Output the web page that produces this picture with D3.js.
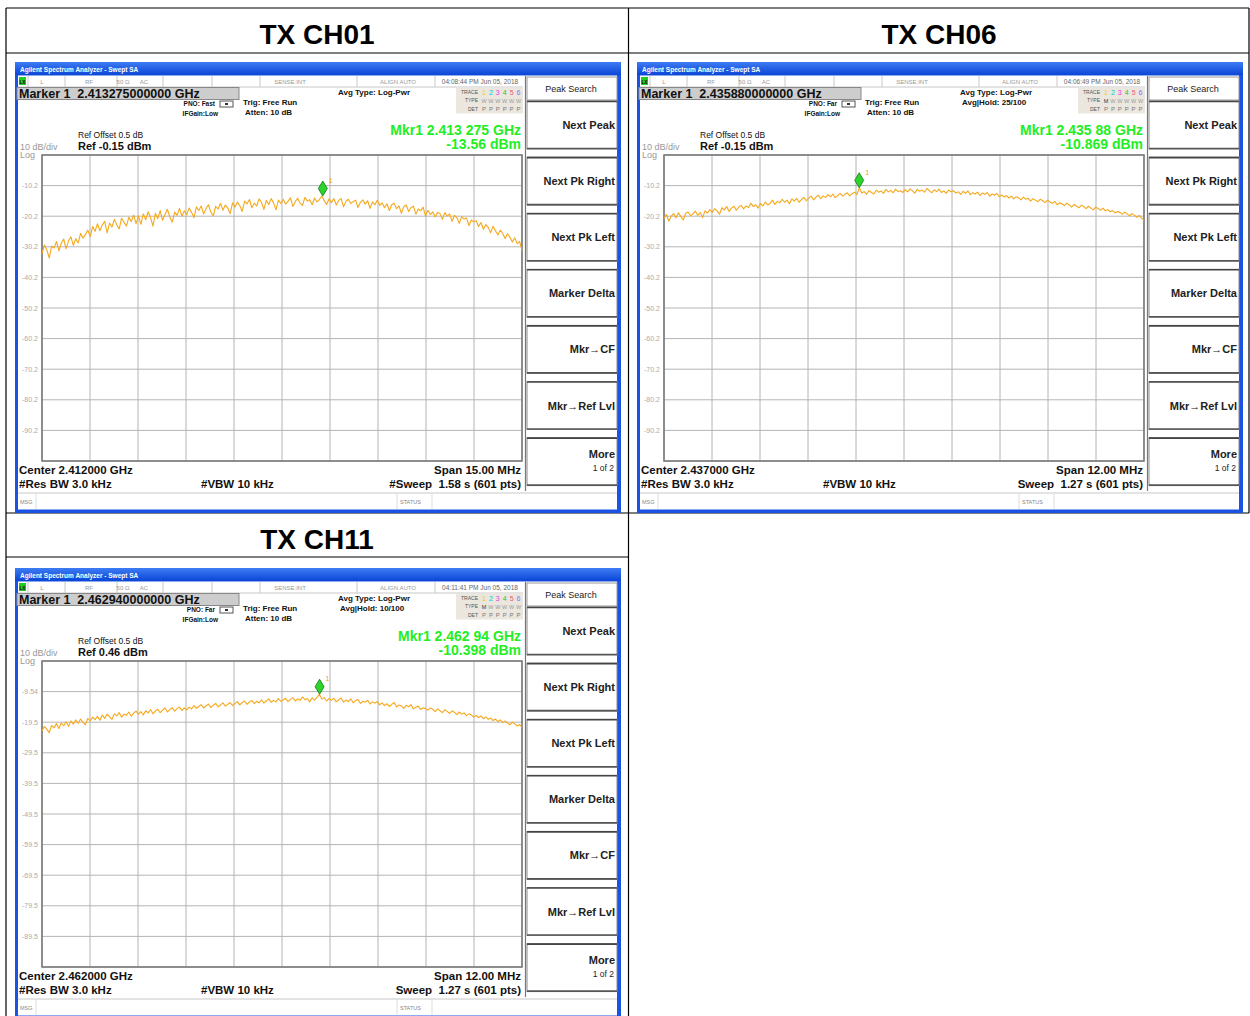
<!DOCTYPE html>
<html>
<head>
<meta charset="utf-8">
<script src="https://cdn.jsdelivr.net/npm/d3@7"></script>
<style>
  body { margin: 0; background: #fff; }
  svg { display: block; }
  text { font-family: "Liberation Sans", Arial, sans-serif; white-space: pre; }
</style>
</head>
<body>
<svg id="chart" width="1250" height="1016"></svg>
<script>
// ---- data -------------------------------------------------------------
const panelTitles   = ["TX CH01", "TX CH06", "TX CH11"];
const centerGHz     = [2.412, 2.437, 2.462];
const spanMHz       = [15, 12, 12];
const refLevelDbm   = [-0.15, -0.15, 0.46];
const markerGHz     = [2.413275, 2.43588, 2.46294];
const markerDbm     = [-13.56, -10.869, -10.398];
const markerFreqTxt = ["2.413275000000 GHz", "2.435880000000 GHz", "2.462940000000 GHz"];
const mkrReadoutTxt = ["2.413 275 GHz", "2.435 88 GHz", "2.462 94 GHz"];
const centerTxt     = ["Center 2.412000 GHz", "Center 2.437000 GHz", "Center 2.462000 GHz"];
const spanTxt       = ["Span 15.00 MHz", "Span 12.00 MHz", "Span 12.00 MHz"];
const sweepTxt      = ["#Sweep  1.58 s (601 pts)", "Sweep  1.27 s (601 pts)", "Sweep  1.27 s (601 pts)"];
const pnoTxt        = ["PNO: Fast", "PNO: Far", "PNO: Far"];
const avgHoldTxt    = ["", "Avg|Hold: 25/100", "Avg|Hold: 10/100"];
const timestampTxt  = ["04:08:44 PM Jun 05, 2018", "04:06:49 PM Jun 05, 2018", "04:11:41 PM Jun 05, 2018"];
const traceTypeTxt  = ["WWWWWW", "MWWWWW", "MWWWWW"];
const yTickLabels = [
  ["-10.2", "-20.2", "-30.2", "-40.2", "-50.2", "-60.2", "-70.2", "-80.2", "-90.2"],
  ["-10.2", "-20.2", "-30.2", "-40.2", "-50.2", "-60.2", "-70.2", "-80.2", "-90.2"],
  ["-9.54", "-19.5", "-29.5", "-39.5", "-49.5", "-59.5", "-69.5", "-79.5", "-89.5"]
];
const softkeyLabels = ["Next Peak", "Next Pk Right", "Next Pk Left", "Marker Delta", "Mkr\u2192CF", "Mkr\u2192Ref Lvl", "More"];

// swept trace levels (dBm), evenly spaced across the span
const traceCh01 = [
  -32.4, -29.6, -31.2, -33.8, -29.9, -30.6, -28.4, -31.5, -29.0, -27.6, -30.8, -28.2, -26.9, -29.7, -27.5, -28.9, -25.8, -27.3, -26.1, -24.7,
  -26.8, -23.5, -25.1, -22.6, -24.9, -23.0, -21.8, -25.6, -22.4, -23.7, -21.2, -22.9, -24.3, -20.8, -22.1, -23.4, -20.5, -21.9, -19.8, -22.6,
  -20.1, -22.8, -19.4, -21.3, -18.7, -20.6, -23.4, -19.2, -20.9, -18.3, -21.5, -19.6, -17.9, -20.4, -22.1, -18.8, -19.9, -17.6, -20.2, -18.4,
  -19.7, -17.5, -18.9, -20.6, -17.1, -18.3, -16.8, -19.4, -17.7, -16.4, -18.8, -20.1, -16.9, -17.8, -15.9, -18.2, -16.5, -17.4, -19.3, -15.8,
  -17.2, -15.5, -16.7, -18.6, -15.2, -16.1, -14.7, -17.4, -15.9, -16.8, -14.5, -15.6, -17.9, -15.0, -16.3, -14.4, -15.8, -18.1, -14.9, -16.0,
  -14.6, -16.2, -15.3, -14.1, -17.0, -15.4, -14.3, -15.9, -16.6, -14.0, -15.2, -14.8, -16.4, -14.2, -15.5, -14.7, -13.56, -15.1, -16.3, -14.5,
  -15.7, -14.4, -16.5, -15.0, -14.3, -17.1, -15.3, -14.6, -16.0, -15.4, -14.9, -17.3, -15.6, -14.8, -16.2, -15.1, -17.6, -15.5, -16.4, -14.9,
  -16.6, -15.8, -17.4, -16.1, -18.3, -16.4, -15.9, -17.7, -16.8, -19.2, -17.0, -16.5, -18.6, -17.3, -16.9, -19.5, -17.8, -18.4, -17.2, -20.1,
  -18.2, -19.6, -18.7, -20.4, -18.9, -19.3, -21.2, -19.0, -20.1, -19.4, -21.8, -19.9, -20.6, -22.5, -20.3, -21.1, -20.7, -23.2, -21.4, -22.0,
  -21.6, -23.5, -22.2, -24.4, -22.9, -23.8, -25.6, -23.4, -24.9, -26.3, -24.7, -25.8, -27.4, -25.9, -27.0, -28.6, -27.2, -29.1, -28.4, -31.3
];
const traceCh06 = [
  -20.9, -19.6, -21.8, -20.1, -19.3, -20.7, -19.0, -20.3, -21.4, -19.2, -18.8, -20.0, -19.4, -18.5, -19.9, -18.9, -20.6, -18.4, -19.1, -18.0,
  -18.9, -17.7, -18.4, -19.5, -17.4, -18.1, -17.0, -18.6, -17.5, -16.9, -18.2, -17.2, -16.6, -17.8, -16.8, -17.3, -15.9, -17.0, -16.4, -17.5,
  -16.0, -16.8, -15.5, -16.5, -15.9, -14.9, -16.3, -15.3, -15.8, -14.6, -15.6, -14.9, -16.1, -14.5, -15.2, -14.3, -15.6, -14.7, -14.0, -15.1,
  -14.2, -13.6, -14.8, -13.9, -13.3, -14.4, -13.5, -14.0, -13.1, -13.8, -12.9, -14.1, -13.4, -12.7, -13.6, -13.0, -12.5, -13.5, -12.8, -12.3,
  -13.1, -10.869, -12.6, -12.1, -13.0, -11.8, -12.4, -12.9, -11.6, -12.3, -11.9, -12.7, -11.4, -12.2, -11.7, -12.5, -11.3, -12.1, -11.8, -12.4,
  -11.5, -12.2, -11.2, -11.9, -12.6, -11.4, -12.0, -11.6, -12.3, -11.1, -11.8, -12.5, -11.5, -12.1, -11.3, -12.4, -11.9, -12.7, -11.6, -12.2,
  -11.8, -12.6, -12.2, -13.0, -12.0, -12.7, -11.9, -13.1, -12.5, -12.9, -12.3, -13.4, -12.6, -13.0, -12.4, -13.6, -12.9, -13.3, -12.7, -13.8,
  -13.2, -13.9, -13.4, -14.2, -13.6, -14.5, -13.8, -14.1, -14.8, -13.9, -14.6, -14.3, -15.2, -14.4, -14.9, -15.4, -14.6, -15.1, -15.7, -14.9,
  -15.5, -15.9, -15.3, -16.4, -15.8, -16.1, -16.7, -15.9, -16.5, -17.2, -16.3, -16.8, -17.4, -16.6, -17.0, -17.7, -16.9, -17.5, -18.1, -17.2,
  -17.6, -18.2, -17.5, -18.4, -18.0, -18.7, -18.3, -19.1, -18.6, -18.9, -19.5, -18.8, -19.4, -20.0, -19.3, -19.8, -20.5, -19.9, -20.8, -21.5
];
const traceCh11 = [
  -22.4, -20.9, -21.8, -23.0, -20.6, -21.4, -20.0, -21.6, -19.8, -20.7, -19.4, -20.9, -19.1, -20.2, -18.8, -19.9, -18.5, -19.6, -20.4, -18.3,
  -19.1, -17.9, -18.7, -17.6, -18.9, -17.2, -18.3, -16.9, -17.8, -18.6, -16.8, -17.5, -16.4, -17.9, -16.9, -17.3, -16.2, -17.6, -16.6, -15.9,
  -16.9, -16.1, -17.2, -15.8, -16.5, -15.4, -16.8, -15.9, -15.3, -16.4, -15.6, -14.9, -16.2, -15.4, -14.8, -15.9, -15.1, -14.6, -15.7, -14.9,
  -15.5, -14.6, -15.2, -14.1, -15.0, -14.4, -13.8, -14.9, -14.2, -13.6, -14.7, -14.0, -13.4, -14.5, -13.9, -13.2, -14.3, -13.7, -13.1, -14.1,
  -13.4, -12.8, -13.9, -13.1, -12.6, -13.7, -12.9, -12.4, -13.5, -12.7, -13.2, -12.2, -13.3, -12.6, -11.9, -13.0, -12.4, -12.9, -11.8, -12.7,
  -12.3, -11.7, -12.8, -12.1, -11.5, -12.6, -11.9, -12.4, -11.3, -12.2, -11.8, -12.9, -11.6, -12.3, -11.4, -10.398, -12.0, -11.5, -12.6, -11.8,
  -12.4, -11.7, -12.9, -12.2, -11.6, -13.0, -12.3, -12.8, -11.9, -13.2, -12.5, -12.1, -13.4, -12.7, -13.0, -12.4, -13.6, -12.9, -13.3, -12.8,
  -13.9, -13.2, -14.1, -13.5, -14.4, -13.7, -13.1, -14.6, -13.9, -14.2, -15.0, -14.0, -14.5, -13.8, -15.2, -14.6, -14.3, -15.4, -14.8, -15.1,
  -15.6, -14.9, -15.3, -16.1, -15.2, -15.8, -16.4, -15.5, -16.0, -16.7, -15.8, -16.3, -17.1, -16.2, -16.9, -16.5, -17.4, -16.8, -17.2, -17.9,
  -17.3, -18.0, -17.5, -18.4, -17.8, -18.6, -18.2, -19.0, -18.5, -19.3, -18.8, -19.6, -19.1, -19.8, -20.4, -19.5, -20.1, -20.8, -20.3, -21.2
];
const traces = [traceCh01, traceCh06, traceCh11];

// ---- drawing ----------------------------------------------------------
const svg = d3.select("#chart");
const defs = svg.append("defs");
const tg = defs.append("linearGradient").attr("id", "titlebar").attr("x1", 0).attr("y1", 0).attr("x2", 0).attr("y2", 1);
tg.append("stop").attr("offset", "0%").attr("stop-color", "#3d7cf4");
tg.append("stop").attr("offset", "100%").attr("stop-color", "#0b46d6");

// outer table
const table = svg.append("g").attr("stroke", "#000").attr("stroke-width", 1.2).attr("fill", "none");
[[6, 8, 1249, 8], [6, 53, 1249, 53], [6, 513, 1249, 513], [6, 557, 628, 557],
 [6, 8, 6, 1016], [628.5, 8, 628.5, 1016], [1249, 8, 1249, 513]].forEach(l =>
  table.append("line").attr("x1", l[0]).attr("y1", l[1]).attr("x2", l[2]).attr("y2", l[3]));

const headerPos = [[317, 44], [939, 44], [317, 549]];
panelTitles.forEach((t, k) => {
  svg.append("text").attr("x", headerPos[k][0]).attr("y", headerPos[k][1])
    .attr("text-anchor", "middle").attr("font-size", 28).attr("font-weight", "bold").attr("fill", "#000").text(t);
});

const panelOffset = [[0, 0], [622, 0], [0, 506]];
const traceColors = ["#e8d000", "#00cccc", "#e040e0", "#33bb33", "#ee5577", "#7777ff"];

function txt(g, x, y, s, size, opts = {}) {
  return g.append("text").attr("x", x).attr("y", y).attr("font-size", size)
    .attr("font-weight", opts.bold ? "bold" : "normal")
    .attr("fill", opts.fill || "#111")
    .attr("text-anchor", opts.anchor || "start")
    .text(s);
}

function drawPanel(k) {
  const g = svg.append("g").attr("transform", `translate(${panelOffset[k][0]},${panelOffset[k][1]})`);

  // window frame
  g.append("rect").attr("x", 15).attr("y", 62).attr("width", 606).attr("height", 451).attr("fill", "#1a52e4");
  g.append("rect").attr("x", 15).attr("y", 62).attr("width", 606).attr("height", 13).attr("fill", "url(#titlebar)");
  txt(g, 20, 72, "Agilent Spectrum Analyzer - Swept SA", 6.5, { bold: true, fill: "#fff" });
  g.append("rect").attr("x", 18).attr("y", 75.5).attr("width", 599).attr("height", 434).attr("fill", "#fff");

  // status strip
  g.append("line").attr("x1", 18).attr("x2", 523).attr("y1", 87).attr("y2", 87).attr("stroke", "#c8c8c8");
  [28, 65, 117, 163, 212, 260, 357, 435].forEach(x =>
    g.append("line").attr("x1", x).attr("x2", x).attr("y1", 76).attr("y2", 87).attr("stroke", "#c8c8c8"));
  g.append("rect").attr("x", 19).attr("y", 77).attr("width", 7).attr("height", 8).attr("fill", "#22cc22");
  txt(g, 22.5, 83.5, "LX", 4.5, { bold: true, anchor: "middle", fill: "#000" });
  txt(g, 42, 84, "L", 6, { fill: "#999", anchor: "middle" });
  txt(g, 89, 84, "RF", 6, { fill: "#999", anchor: "middle" });
  txt(g, 123, 84, "50 \u03A9", 6, { fill: "#999", anchor: "middle" });
  txt(g, 144, 84, "AC", 6, { fill: "#999", anchor: "middle" });
  txt(g, 290, 84, "SENSE:INT", 6, { fill: "#999", anchor: "middle" });
  txt(g, 398, 84, "ALIGN AUTO", 6, { fill: "#999", anchor: "middle" });
  txt(g, 480, 84, timestampTxt[k], 6.5, { fill: "#666", anchor: "middle" });

  // marker readout bar
  g.append("rect").attr("x", 17).attr("y", 87.5).attr("width", 222).attr("height", 12).attr("fill", "#cdcdcd").attr("stroke", "#888");
  txt(g, 19, 98, "Marker 1  " + markerFreqTxt[k], 12.5, { bold: true });
  txt(g, 215, 106, pnoTxt[k], 6.5, { bold: true, anchor: "end" });
  txt(g, 218, 116, "IFGain:Low", 6.5, { bold: true, anchor: "end" });
  g.append("rect").attr("x", 220).attr("y", 101).attr("width", 13).attr("height", 6).attr("fill", "#fff").attr("stroke", "#555");
  g.append("rect").attr("x", 225).attr("y", 103).attr("width", 3).attr("height", 2).attr("fill", "#333");
  txt(g, 243, 105, "Trig: Free Run", 8, { bold: true });
  txt(g, 245, 115, "Atten: 10 dB", 8, { bold: true });
  txt(g, 338, 95, "Avg Type: Log-Pwr", 8, { bold: true });
  if (avgHoldTxt[k]) txt(g, 340, 105, avgHoldTxt[k], 8, { bold: true });

  // trace legend box
  g.append("rect").attr("x", 456).attr("y", 87.5).attr("width", 67).attr("height", 26).attr("fill", "#ebe7df");
  txt(g, 478, 94, "TRACE", 5, { fill: "#555", anchor: "end" });
  txt(g, 478, 102, "TYPE", 5, { fill: "#555", anchor: "end" });
  txt(g, 478, 110.5, "DET", 5, { fill: "#555", anchor: "end" });
  for (let i = 0; i < 6; i++) {
    const x = 484 + i * 6.9;
    txt(g, x, 95, String(i + 1), 7, { fill: traceColors[i], anchor: "middle" });
    txt(g, x, 102.5, traceTypeTxt[k][i], 5.5, { fill: i === 0 && traceTypeTxt[k][0] === "M" ? "#333" : "#999", anchor: "middle" });
    txt(g, x, 111, "P", 6, { fill: "#777", anchor: "middle" });
  }

  // reference-level annotations
  txt(g, 78, 138, "Ref Offset 0.5 dB", 8.5, {});
  txt(g, 78, 150, "Ref " + refLevelDbm[k].toFixed(2) + " dBm", 11, { bold: true });
  txt(g, 20, 150, "10 dB/div", 9, { fill: "#999" });
  txt(g, 20, 158, "Log", 9, { fill: "#999" });
  txt(g, 521, 135, "Mkr1 " + mkrReadoutTxt[k], 14, { bold: true, fill: "#22ee22", anchor: "end" });
  txt(g, 521, 149, markerDbm[k] + " dBm", 14, { bold: true, fill: "#22ee22", anchor: "end" });

  // plot scales
  const half = spanMHz[k] / 2000;
  const x = d3.scaleLinear().domain([centerGHz[k] - half, centerGHz[k] + half]).range([42, 522]);
  const y = d3.scaleLinear().domain([refLevelDbm[k] - 100, refLevelDbm[k]]).range([461, 155]);

  const plot = g.append("g");
  plot.append("rect").attr("x", 42).attr("y", 155).attr("width", 480).attr("height", 306).attr("fill", "#fff");
  const xTicks = d3.range(11).map(i => x.domain()[0] + i * (spanMHz[k] / 1000) / 10);
  const yTicks = d3.range(11).map(i => refLevelDbm[k] - i * 10);
  plot.selectAll(".vg").data(xTicks).enter().append("line")
    .attr("x1", d => x(d)).attr("x2", d => x(d)).attr("y1", 155).attr("y2", 461)
    .attr("stroke", "#b4b4b4").attr("stroke-width", 1);
  plot.selectAll(".hg").data(yTicks).enter().append("line")
    .attr("x1", 42).attr("x2", 522).attr("y1", d => y(d)).attr("y2", d => y(d))
    .attr("stroke", "#b4b4b4").attr("stroke-width", 1);
  plot.append("rect").attr("x", 42).attr("y", 155).attr("width", 480).attr("height", 306)
    .attr("fill", "none").attr("stroke", "#7a7a7a").attr("stroke-width", 1.6);
  yTickLabels[k].forEach((lab, i) => {
    txt(plot, 38, y(yTicks[i + 1]) + 2.5, lab, 7, { fill: "#aaa", anchor: "end" });
  });

  // spectrum trace
  const data = traces[k];
  const step = (spanMHz[k] / 1000) / (data.length - 1);
  const line = d3.line().x((d, i) => x(x.domain()[0] + i * step)).y(d => y(d));
  plot.append("path").datum(data).attr("d", line)
    .attr("fill", "none").attr("stroke", "#f5a81c").attr("stroke-width", 1.1).attr("stroke-linejoin", "round");

  // marker
  const mx = x(markerGHz[k]), my = y(markerDbm[k]);
  plot.append("path")
    .attr("d", `M${mx},${my - 15} L${mx + 4.5},${my - 7.5} L${mx},${my} L${mx - 4.5},${my - 7.5} Z`)
    .attr("fill", "#2fd22f").attr("stroke", "#0b7a0b").attr("stroke-width", 0.8);
  txt(plot, mx + 6, my - 13, "1", 7, { fill: "#f0a020" });

  // footer
  txt(g, 19, 474, centerTxt[k], 11.5, { bold: true });
  txt(g, 19, 488, "#Res BW 3.0 kHz", 11.5, { bold: true });
  txt(g, 201, 488, "#VBW 10 kHz", 11.5, { bold: true });
  txt(g, 521, 474, spanTxt[k], 11.5, { bold: true, anchor: "end" });
  txt(g, 521, 488, sweepTxt[k], 11.5, { bold: true, anchor: "end" });
  g.append("line").attr("x1", 18).attr("x2", 617).attr("y1", 493).attr("y2", 493).attr("stroke", "#c8c8c8");
  g.append("line").attr("x1", 36).attr("x2", 36).attr("y1", 493).attr("y2", 509).attr("stroke", "#ddd");
  g.append("line").attr("x1", 397).attr("x2", 397).attr("y1", 493).attr("y2", 509).attr("stroke", "#ddd");
  g.append("line").attr("x1", 432).attr("x2", 432).attr("y1", 493).attr("y2", 509).attr("stroke", "#ddd");
  txt(g, 20, 504, "MSG", 5.5, { fill: "#888" });
  txt(g, 400, 504, "STATUS", 5.5, { fill: "#888" });

  // softkey column
  g.append("line").attr("x1", 525.5).attr("x2", 525.5).attr("y1", 76).attr("y2", 491).attr("stroke", "#777").attr("stroke-width", 1.2);
  g.append("rect").attr("x", 527).attr("y", 77).attr("width", 90).attr("height", 23).attr("fill", "#fff").attr("stroke", "#999");
  txt(g, 571, 91.5, "Peak Search", 9, { anchor: "middle", fill: "#222" });
  softkeyLabels.forEach((lab, i) => {
    const top = 101 + i * 56.1;
    g.append("rect").attr("x", 527).attr("y", top).attr("width", 90).attr("height", 48)
      .attr("fill", "#fff").attr("stroke", "#8a8a8a").attr("stroke-width", 1);
    g.append("line").attr("x1", 527).attr("x2", 617).attr("y1", top + 0.5).attr("y2", top + 0.5).attr("stroke", "#444").attr("stroke-width", 1.6);
    g.append("line").attr("x1", 527).attr("x2", 617).attr("y1", top + 47.5).attr("y2", top + 47.5).attr("stroke", "#555").attr("stroke-width", 1.6);
    if (lab === "More") {
      txt(g, 615, top + 20, lab, 11, { bold: true, anchor: "end", fill: "#222" });
      txt(g, 614, top + 33, "1 of 2", 8.5, { anchor: "end", fill: "#222" });
    } else {
      txt(g, 615, top + 28, lab, 11, { bold: true, anchor: "end", fill: "#222" });
    }
  });
}

[0, 1, 2].forEach(drawPanel);
</script>
</body>
</html>
